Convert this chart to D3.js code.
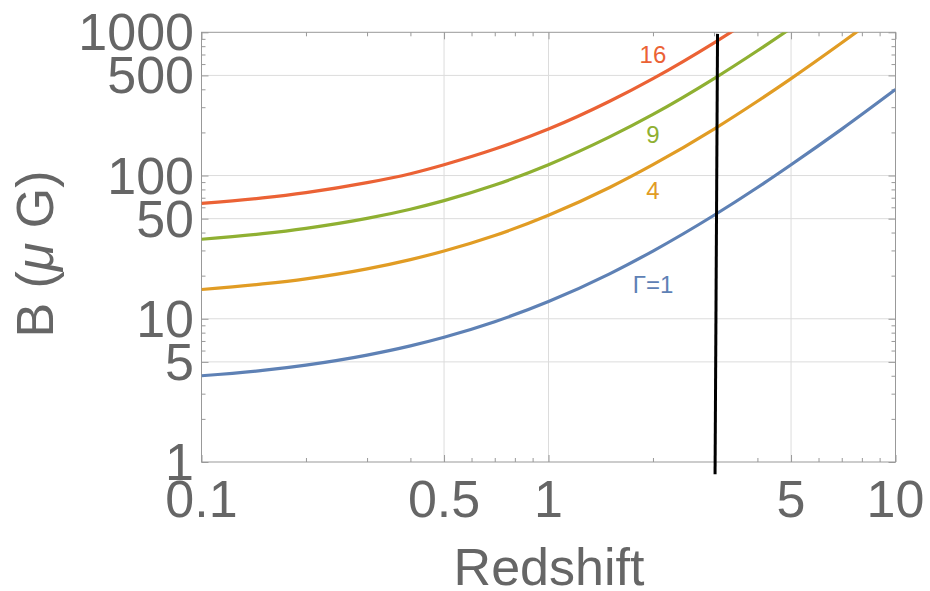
<!DOCTYPE html>
<html>
<head>
<meta charset="utf-8">
<script src="https://cdn.jsdelivr.net/npm/d3@7"></script>
<style>
  html, body { margin: 0; padding: 0; background: #fff; }
  svg { display: block; }
  text { font-family: "Liberation Sans", Arial, sans-serif; }
</style>
</head>
<body>
<script>
// Redshift samples shared by every curve
const redshift = [0.1, 0.15, 0.2, 0.3, 0.4, 0.5, 0.7, 1, 1.5, 2, 3, 4, 5, 7, 10];

// Magnetic field (μG) per bulk Lorentz factor
const bGamma1  = [4.0, 4.36, 4.75, 5.58, 6.47, 7.43, 9.54, 13.2, 20.6, 29.7, 52.8, 82.5, 119, 211, 399];
const bGamma4  = [16.0, 17.5, 19.0, 22.3, 25.9, 29.7, 38.1, 52.8, 82.5, 119, 211, 330, 475, 845, 1597];
const bGamma9  = [35.9, 39.3, 42.8, 50.2, 58.2, 66.8, 85.8, 119, 186, 267, 475, 743, 1069, 1901, 3594];
const bGamma16 = [63.9, 69.8, 76.0, 89.2, 103, 119, 153, 211, 330, 475, 845, 1320, 1901, 3379, 6389];

const seriesNames = ["Γ=1", "4", "9", "16"];
// Label anchor points (redshift, field) for each curve label
const labelZ = [2.0, 2.0, 2.0, 2.0];
const labelB = [15.1, 68.7, 169, 611];

// Vertical marker line (redshift, field at its two ends)
const markerZ = [3.07, 3.02];
const markerB = [975, 0.82];

// Tick values
const xMajorTicks = [0.1, 0.5, 1, 5, 10];
const xMinorTicks = [0.2, 0.3, 0.4, 0.6, 0.7, 0.8, 0.9, 2, 3, 4, 6, 7, 8, 9];
const xTickLabels = ["0.1", "0.5", "1", "5", "10"];
const yMajorTicks = [1, 5, 10, 50, 100, 500, 1000];
const yMinorTicks = [2, 3, 4, 6, 7, 8, 9, 20, 30, 40, 60, 70, 80, 90, 200, 300, 400, 600, 700, 800, 900];
const yTickLabels = ["1", "5", "10", "50", "100", "500", "1000"];
const xGrid = [0.5, 1, 5];
const yGrid = [5, 10, 50, 100, 500];

const W = 930, H = 591;
const plotL = 201.5, plotR = 895.5, plotT = 32.3, plotB = 462;

const colors = ["#5e81b5", "#e19c24", "#8fb032", "#eb6235"];

const svg = d3.select("body").append("svg").attr("width", W).attr("height", H);

const x = d3.scaleLog().domain([0.1, 10]).range([plotL, plotR]);
const y = d3.scaleLog().domain([1, 1000]).range([plotB, plotT]);

// Grid lines
const grid = svg.append("g").attr("stroke", "#dcdcdc").attr("stroke-width", 1);
grid.selectAll("line.gx").data(xGrid).join("line").attr("class", "gx")
  .attr("x1", d => x(d)).attr("x2", d => x(d)).attr("y1", plotT).attr("y2", plotB);
grid.selectAll("line.gy").data(yGrid).join("line").attr("class", "gy")
  .attr("x1", plotL).attr("x2", plotR).attr("y1", d => y(d)).attr("y2", d => y(d));

// Frame ticks on all four sides, pointing inward
function tickAxis(axisFn, scale, values, size, transform) {
  const g = svg.append("g").attr("transform", transform)
    .call(axisFn(scale).tickValues(values).tickSize(size).tickFormat(""));
  g.select(".domain").remove();
  g.selectAll(".tick line").attr("stroke", "#999").attr("stroke-width", 1);
}
tickAxis(d3.axisBottom, x, xMajorTicks, -7, `translate(0,${plotB})`);
tickAxis(d3.axisBottom, x, xMinorTicks, -4, `translate(0,${plotB})`);
tickAxis(d3.axisTop, x, xMajorTicks, -7, `translate(0,${plotT})`);
tickAxis(d3.axisTop, x, xMinorTicks, -4, `translate(0,${plotT})`);
tickAxis(d3.axisLeft, y, yMajorTicks, -7, `translate(${plotL},0)`);
tickAxis(d3.axisLeft, y, yMinorTicks, -4, `translate(${plotL},0)`);
tickAxis(d3.axisRight, y, yMajorTicks, -7, `translate(${plotR},0)`);
tickAxis(d3.axisRight, y, yMinorTicks, -4, `translate(${plotR},0)`);

svg.append("rect")
  .attr("x", plotL).attr("y", plotT).attr("width", plotR - plotL).attr("height", plotB - plotT)
  .attr("fill", "none").attr("stroke", "#999").attr("stroke-width", 1);

// Curves, clipped to the plot frame
svg.append("clipPath").attr("id", "plotClip").append("rect")
  .attr("x", plotL).attr("y", plotT).attr("width", plotR - plotL).attr("height", plotB - plotT);

const line = d3.line().x(d => x(d[0])).y(d => y(d[1])).curve(d3.curveMonotoneX);
const allSeries = [bGamma1, bGamma4, bGamma9, bGamma16];
svg.append("g").attr("clip-path", "url(#plotClip)")
  .selectAll("path").data(allSeries).join("path")
  .attr("d", vals => line(redshift.map((z, i) => [z, vals[i]])))
  .attr("fill", "none")
  .attr("stroke", (d, i) => colors[i])
  .attr("stroke-width", 3.2);

// Curve labels
svg.selectAll("text.clabel").data(seriesNames).join("text")
  .attr("class", "clabel")
  .attr("x", (d, i) => x(labelZ[i]))
  .attr("y", (d, i) => y(labelB[i]))
  .attr("text-anchor", "middle")
  .attr("font-size", 24)
  .attr("fill", (d, i) => colors[i])
  .text(d => d);

// Vertical marker
svg.append("line")
  .attr("x1", x(markerZ[0])).attr("y1", y(markerB[0]))
  .attr("x2", x(markerZ[1])).attr("y2", y(markerB[1]))
  .attr("stroke", "#000").attr("stroke-width", 3);

// Tick labels
svg.selectAll("text.xl").data(xMajorTicks).join("text")
  .attr("class", "xl")
  .attr("x", d => x(d)).attr("y", 517)
  .attr("text-anchor", "middle").attr("font-size", 52).attr("fill", "#666")
  .text((d, i) => xTickLabels[i]);

svg.selectAll("text.yl").data(yMajorTicks).join("text")
  .attr("class", "yl")
  .attr("x", 194).attr("y", d => y(d) + 18)
  .attr("text-anchor", "end").attr("font-size", 52).attr("fill", "#666")
  .text((d, i) => yTickLabels[i]);

// Axis titles
svg.append("text")
  .attr("x", 549).attr("y", 585)
  .attr("text-anchor", "middle").attr("font-size", 52).attr("fill", "#666")
  .text("Redshift");

const yTitle = svg.append("text")
  .attr("transform", "translate(53,254) rotate(-90)")
  .attr("text-anchor", "middle").attr("font-size", 52).attr("fill", "#666");
yTitle.append("tspan").text("B (");
yTitle.append("tspan").attr("font-style", "italic").text("μ");
yTitle.append("tspan").text(" G)");
</script>
</body>
</html>
